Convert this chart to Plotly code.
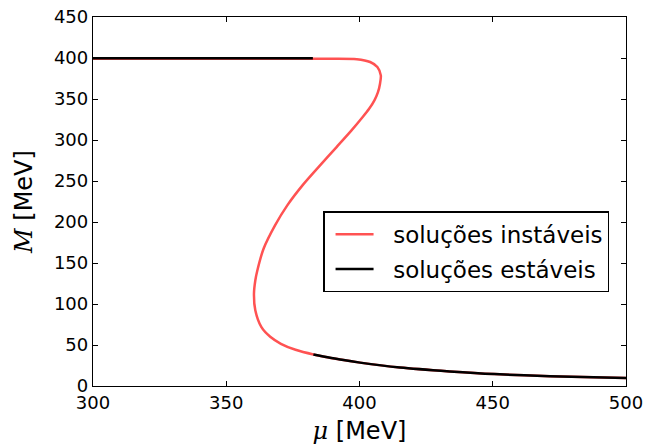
import plotly.graph_objects as go

# unstable (red) solution branch: mu [MeV], M [MeV]
mu_unstable = [300, 340, 382.5, 399.0, 404.0, 406.7, 408.0, 407.7, 406.9, 405.6, 403.6,
               401.2, 397.0, 391.4, 385.2, 378.6, 372.9, 368.3, 364.0, 361.6, 360.9,
               360.4, 360.9, 363.2, 366.5, 370.5, 376.0, 382.7, 393.4, 400.2, 415.2,
               433.9, 450.6, 471.5, 500.0]
M_unstable = [399.0, 399.0, 399.0, 398.6, 395.1, 389.0, 378.8, 368.7, 358.0, 348.4, 338.0,
              328.0, 311.7, 291.4, 269.1, 244.7, 220.3, 195.9, 167.4, 140.0, 128.7,
              112.5, 92.3, 71.7, 60.0, 51.5, 44.2, 38.5, 32.0, 28.5, 22.5,
              17.8, 14.5, 12.0, 9.8]

# stable (black) solution branches
mu_stable_high = [300, 340, 382.5]
M_stable_high = [399.6, 399.6, 399.6]
mu_stable_low = [382.7, 393.4, 400.2, 415.2, 433.9, 450.6, 471.5, 500.0]
M_stable_low = [38.5, 32.0, 28.5, 22.5, 17.8, 14.5, 12.0, 9.8]

x_ticks = [300, 350, 400, 450, 500]
y_ticks = [0, 50, 100, 150, 200, 250, 300, 350, 400, 450]

red = "rgb(255,82,82)"
pad = "\u00a0\u00a0"
fig = go.Figure()
fig.add_trace(go.Scatter(x=mu_unstable, y=M_unstable, mode="lines",
                         line=dict(color=red, width=2.5, shape="spline", smoothing=0.8),
                         name=pad + "soluções instáveis"))
fig.add_trace(go.Scatter(x=mu_stable_high, y=M_stable_high, mode="lines",
                         line=dict(color="black", width=2.5),
                         name=pad + "soluções estáveis", legendgroup="s"))
fig.add_trace(go.Scatter(x=mu_stable_low, y=M_stable_low, mode="lines",
                         line=dict(color="black", width=2.5, shape="spline", smoothing=0.8),
                         name=pad + "soluções estáveis", legendgroup="s", showlegend=False))

axis_common = dict(showline=True, mirror="allticks", linecolor="black", linewidth=1.3,
                   ticks="inside", ticklen=5, tickwidth=1, tickcolor="black",
                   showgrid=False, zeroline=False, automargin=False,
                   tickfont=dict(family="DejaVu Sans", size=18, color="black"))

fig.update_layout(
    width=647, height=448,
    margin=dict(l=93, r=21, t=17, b=62),
    paper_bgcolor="white", plot_bgcolor="white",
    font=dict(family="DejaVu Sans", color="black"),
    xaxis=dict(range=[300, 500], tickvals=x_ticks,
               title=dict(text="<i><span style='font-family:DejaVu Serif'>μ</span></i> [MeV]",
                          font=dict(size=24), standoff=10),
               **axis_common),
    yaxis=dict(range=[0, 450], tickvals=y_ticks,
               title=dict(text="<i><span style='font-family:DejaVu Serif'>M</span></i> [MeV]",
                          font=dict(size=24), standoff=14),
               **axis_common),
    legend=dict(x=0.432, y=0.473, xanchor="left", yanchor="top",
                bordercolor="black", borderwidth=1.3, bgcolor="white",
                font=dict(family="DejaVu Sans", size=23),
                itemwidth=38, indentation=6, tracegroupgap=2),
    showlegend=True,
)

fig.write_html("out.html")
